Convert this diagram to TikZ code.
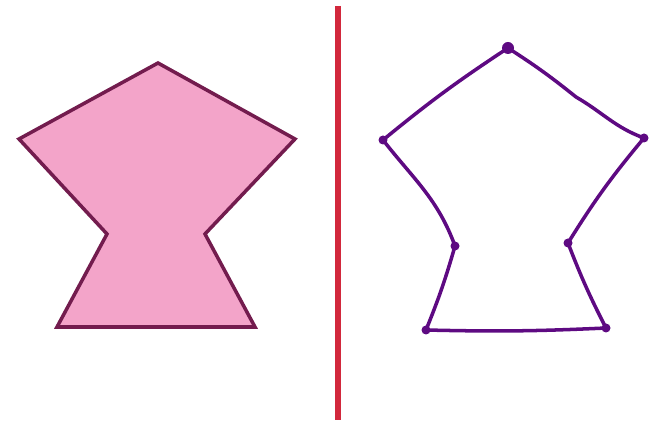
\documentclass[tikz,border=0pt]{standalone}
\usepackage{xcolor}
\usetikzlibrary{calc}
\definecolor{shapepink}{RGB}{243,164,201}
\definecolor{shapeedge}{RGB}{115,28,78}
\definecolor{mirrorred}{RGB}{210,40,60}
\definecolor{tracepurple}{RGB}{94,10,130}
\tikzset{
  original/.style={draw=shapeedge,fill=shapepink,line width=3pt,line join=miter},
  mirror/.style={draw=mirrorred,line width=5.5pt},
  trace/.style={draw=tracepurple,line width=3pt,line cap=round,line join=round},
  vertex/.style={fill=tracepurple}
}
\begin{document}
\begin{tikzpicture}[x=0.03cm,y=-0.03cm]
  \useasboundingbox (0,0) rectangle (658,431);
  % original shape
  \coordinate (ot) at (158,63);
  \coordinate (or) at (295,139);
  \coordinate (ori) at (205,234);
  \coordinate (obr) at (255,327);
  \coordinate (obl) at (57,327);
  \coordinate (oli) at (107,234);
  \coordinate (ol) at (19,139);
  \draw[original] (ot) -- (or) -- (ori) -- (obr) -- (obl) -- (oli) -- (ol) -- cycle;
  % mirror line
  \coordinate (mtop) at (338,6);
  \coordinate (mbot) at (338,420);
  \draw[mirror] (mtop) -- (mbot);
  % reflected shape, drawn by hand
  \coordinate (rt) at (508,48);
  \coordinate (rl) at (383,140);
  \coordinate (rli) at (455,246);
  \coordinate (rbl) at (426,330);
  \coordinate (rbr) at (606,328);
  \coordinate (rri) at (568,243);
  \coordinate (rr) at (644,138);
  \draw[trace] (rt) to[bend right=3] (rl)
    to[out=-52,in=110] (rli)
    to[bend left=3] (rbl)
    to[bend right=2] (rbr)
    to[bend left=3] (rri)
    to[bend left=4] (rr)
    to[out=160,in=-30] ($(rt)!0.5!(rr)+(0,4)$) to[bend right=3] (rt);
  \fill[vertex] (rt) circle (6);
  \foreach \v in {rl,rli,rbl,rbr,rri,rr}
    \fill[vertex] (\v) circle (4.5);
\end{tikzpicture}
\end{document}
